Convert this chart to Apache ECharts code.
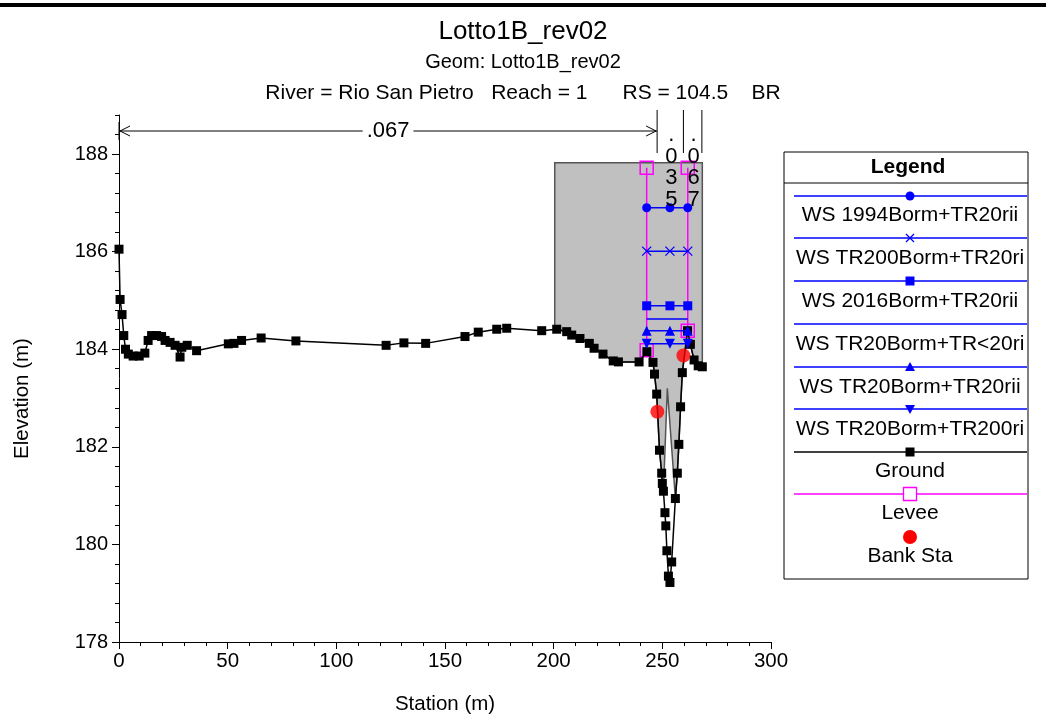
<!DOCTYPE html>
<html>
<head>
<meta charset="utf-8">
<title>Lotto1B_rev02</title>
<script src="https://cdn.jsdelivr.net/npm/echarts@6/dist/echarts.min.js"></script>
<style>
html, body { margin: 0; padding: 0; background: #fff; }
#main { width: 1046px; height: 718px; }
</style>
</head>
<body>
<div id="main"></div>
<script>
// ground profile
var groundSta = [0, 0.5, 1.4, 2.2, 3.0, 4.3, 6.5, 9.3, 11.9, 13.4, 15.0, 17.3, 19.6, 21.2, 23.5, 25.8, 28.1, 28.9, 31.4, 35.7,
    50.3, 52.9, 56.4, 65.4, 81.4, 122.9, 131.1, 141.1, 159.2, 165.3, 173.8, 178.4, 194.5, 201.4, 206.0, 208.3, 212.1, 216.4,
    218.6, 222.7, 227.4, 229.8, 239.3, 242.9, 245.7, 246.4, 247.4, 248.7, 249.7, 250.0, 250.5, 251.2, 251.6, 252.1, 252.8,
    253.5, 254.3, 256.0, 256.9, 257.6, 258.4, 259.2, 261.6, 262.9, 264.6, 266.5, 268.4];
var groundElev = [186.05, 185.02, 184.71, 184.28, 184.00, 183.90, 183.86, 183.86, 183.92, 184.18, 184.28, 184.28, 184.26, 184.18, 184.14, 184.08, 183.84, 184.04, 184.08, 183.97,
    184.11, 184.12, 184.18, 184.23, 184.17, 184.08, 184.13, 184.12, 184.26, 184.35, 184.41, 184.43, 184.38, 184.41, 184.36, 184.29, 184.22, 184.12,
    184.02, 183.90, 183.76, 183.74, 183.74, 183.95, 183.73, 183.49, 183.08, 181.93, 181.46, 181.25, 181.09, 180.65, 180.38, 179.87, 179.35,
    179.22, 179.64, 180.94, 181.46, 182.05, 182.82, 183.52, 184.38, 184.10, 183.78, 183.66, 183.64];

// water surfaces
var wsNames = ['WS 1994Borm+TR20rii', 'WS TR200Borm+TR20ri', 'WS 2016Borm+TR20rii', 'WS TR20Borm+TR<20ri', 'WS TR20Borm+TR20rii', 'WS TR20Borm+TR200ri'];
var wsElev = [186.90, 186.01, 184.89, 184.62, 184.38, 184.11];
var wsSta = [242.8, 253.5, 261.7];

// levees, bank stations
var leveeSta = [242.8, 261.7];
var leveeLow = [183.98, 184.38];
var leveeTop = 187.72;
var bankSta = [247.7, 259.7];
var bankElev = [182.72, 183.87];

// bridge deck and pier opening
var deckSta = [200.5, 268.4];
var deckTop = 187.82;
var pierSta = [250.5, 252.3, 256.0];
var pierElev = [181.09, 183.2, 180.94];

// manning n
var nSta = [0, 247.6, 259.7, 268.2];
var nVal = ['.067', '.035', '.067'];

var xTicks = [0, 50, 100, 150, 200, 250, 300];
var yTicks = [178, 180, 182, 184, 186, 188];

var FONT = '"Liberation Sans", Arial, sans-serif';
var BLUE = '#0000ff';
var crossPath = 'path://M0,0L10,10M10,0L0,10';
var downTri = 'path://M0,0L10,0L5,9Z';

function pairs(xs, ys) {
    var out = [];
    for (var i = 0; i < xs.length; i++) out.push([xs[i], ys[i]]);
    return out;
}

var wsSymbols = ['circle', crossPath, 'rect', 'none', 'triangle', downTri];
var wsSizes = [9, 9, 9, 0, 10, 10];

var series = [];

// grey bridge deck fill
series.push({
    type: 'custom',
    name: 'deck',
    silent: true,
    z: 1,
    data: [0],
    renderItem: function (params, api) {
        var pts = [];
        pts.push(api.coord([deckSta[0], deckTop]));
        pts.push(api.coord([deckSta[1], deckTop]));
        var ib = groundElev.indexOf(Math.min.apply(null, groundElev));
        for (var i = groundSta.length - 1; i > ib; i--) {
            if (groundSta[i] >= pierSta[2]) pts.push(api.coord([groundSta[i], groundElev[i]]));
        }
        for (var k = pierSta.length - 1; k >= 0; k--) pts.push(api.coord([pierSta[k], pierElev[k]]));
        for (var j = ib; j >= 0; j--) {
            if (groundSta[j] <= pierSta[0] && groundSta[j] >= deckSta[0]) pts.push(api.coord([groundSta[j], groundElev[j]]));
        }
        pts.push(api.coord([deckSta[0], 184.41]));
        return {
            type: 'polygon',
            shape: { points: pts },
            style: { fill: '#c0c0c0', stroke: '#555', lineWidth: 1.5 }
        };
    }
});

// levees
for (var l = 0; l < leveeSta.length; l++) {
    series.push({
        type: 'line',
        name: 'Levee',
        z: 3,
        data: [[leveeSta[l], leveeLow[l]], [leveeSta[l], leveeTop]],
        symbol: 'rect',
        symbolSize: 13,
        showAllSymbol: true,
        lineStyle: { color: '#ff00ff', width: 1.5 },
        itemStyle: { color: 'rgba(0,0,0,0)', borderColor: '#ff00ff', borderWidth: 1.5 }
    });
}

// ground
series.push({
    type: 'line',
    name: 'Ground',
    z: 4,
    data: pairs(groundSta, groundElev),
    symbol: 'rect',
    symbolSize: 9,
    showAllSymbol: true,
    lineStyle: { color: '#000', width: 1.5 },
    itemStyle: { color: '#000' }
});

// water surfaces
for (var w = 0; w < wsNames.length; w++) {
    var d = [];
    if (wsSymbols[w] === 'none') {
        d = [[wsSta[0], wsElev[w]], [wsSta[2], wsElev[w]]];
    } else {
        for (var s = 0; s < wsSta.length; s++) d.push([wsSta[s], wsElev[w]]);
    }
    var isCross = wsSymbols[w] === crossPath;
    series.push({
        type: 'line',
        name: wsNames[w],
        z: 5,
        data: d,
        symbol: wsSymbols[w],
        symbolSize: wsSizes[w],
        showAllSymbol: true,
        lineStyle: { color: BLUE, width: 1.5 },
        itemStyle: isCross ? { color: 'rgba(0,0,0,0)', borderColor: BLUE, borderWidth: 1.3 } : { color: BLUE }
    });
}

// bank stations
series.push({
    type: 'scatter',
    name: 'Bank Sta',
    z: 6,
    data: pairs(bankSta, bankElev),
    symbol: 'circle',
    symbolSize: 14,
    itemStyle: { color: '#ff0000' }
});

// legend box built with graphic elements
var legendRows = [
    { name: wsNames[0], lineY: 196, textY: 215, line: BLUE, mark: 'circle' },
    { name: wsNames[1], lineY: 238, textY: 258, line: BLUE, mark: 'cross' },
    { name: wsNames[2], lineY: 281, textY: 301, line: BLUE, mark: 'square' },
    { name: wsNames[3], lineY: 324, textY: 344, line: BLUE, mark: 'none' },
    { name: wsNames[4], lineY: 367, textY: 387, line: BLUE, mark: 'tri' },
    { name: wsNames[5], lineY: 409, textY: 429, line: BLUE, mark: 'dtri' },
    { name: 'Ground', lineY: 452, textY: 471, line: '#000', mark: 'gsquare' },
    { name: 'Levee', lineY: 494, textY: 513, line: '#ff00ff', mark: 'lsquare' },
    { name: 'Bank Sta', lineY: 537, textY: 556, line: null, mark: 'bank' }
];
var mx = 910;
var legendEls = [
    { type: 'rect', shape: { x: 784, y: 152, width: 244, height: 427 }, style: { fill: '#fff', stroke: '#000', lineWidth: 1 } },
    { type: 'line', shape: { x1: 784, y1: 183, x2: 1028, y2: 183 }, style: { stroke: '#000', lineWidth: 1 } },
    { type: 'text', x: 908, y: 167, style: { text: 'Legend', font: 'bold 21px ' + FONT, fill: '#000', align: 'center', verticalAlign: 'middle' } }
];
legendRows.forEach(function (r) {
    var y = r.lineY;
    if (r.line) legendEls.push({ type: 'line', shape: { x1: 794, y1: y, x2: 1027, y2: y }, style: { stroke: r.line, lineWidth: 1.3 } });
    if (r.mark === 'circle') legendEls.push({ type: 'circle', shape: { cx: mx, cy: y, r: 4.5 }, style: { fill: BLUE } });
    if (r.mark === 'cross') legendEls.push({ type: 'polyline', shape: { points: [[mx - 4, y - 4], [mx + 4, y + 4]] }, style: { stroke: BLUE, lineWidth: 1.2 } },
        { type: 'polyline', shape: { points: [[mx + 4, y - 4], [mx - 4, y + 4]] }, style: { stroke: BLUE, lineWidth: 1.2 } });
    if (r.mark === 'square') legendEls.push({ type: 'rect', shape: { x: mx - 4.5, y: y - 4.5, width: 9, height: 9 }, style: { fill: BLUE } });
    if (r.mark === 'tri') legendEls.push({ type: 'polygon', shape: { points: [[mx - 5, y + 4], [mx + 5, y + 4], [mx, y - 5]] }, style: { fill: BLUE } });
    if (r.mark === 'dtri') legendEls.push({ type: 'polygon', shape: { points: [[mx - 5, y - 4], [mx + 5, y - 4], [mx, y + 5]] }, style: { fill: BLUE } });
    if (r.mark === 'gsquare') legendEls.push({ type: 'rect', shape: { x: mx - 4.5, y: y - 4.5, width: 9, height: 9 }, style: { fill: '#000' } });
    if (r.mark === 'lsquare') legendEls.push({ type: 'rect', shape: { x: mx - 6.5, y: y - 6.5, width: 13, height: 13 }, style: { fill: '#fff', stroke: '#ff00ff', lineWidth: 1.3 } });
    if (r.mark === 'bank') legendEls.push({ type: 'circle', shape: { cx: mx, cy: y, r: 7 }, style: { fill: '#ff0000' } });
    legendEls.push({ type: 'text', x: mx, y: r.textY, style: { text: r.name, font: '21px ' + FONT, fill: '#000', align: 'center', verticalAlign: 'middle' } });
});

var chart = echarts.init(document.getElementById('main'), null, { renderer: 'canvas' });

var titleStyle = function (size) {
    return { fontSize: size, fontWeight: 'normal', color: '#000', fontFamily: FONT };
};

var option = {
    backgroundColor: '#fff',
    animation: false,
    textStyle: { fontFamily: FONT, color: '#000' },
    title: [
        { text: 'Lotto1B_rev02', left: 'center', top: 14, textStyle: titleStyle(26) },
        { text: 'Geom: Lotto1B_rev02', left: 'center', top: 47, textStyle: titleStyle(20) },
        { text: 'River = Rio San Pietro   Reach = 1      RS = 104.5    BR', left: 'center', top: 78, textStyle: titleStyle(21) }
    ],
    grid: { left: 119, right: 275, top: 115, bottom: 76, containLabel: false, outerBoundsMode: 'none' },
    xAxis: {
        type: 'value',
        min: xTicks[0],
        max: xTicks[xTicks.length - 1],
        interval: 50,
        name: 'Station (m)',
        nameLocation: 'middle',
        nameGap: 52,
        nameTextStyle: { fontSize: 20.5, color: '#000', fontFamily: FONT },
        axisLine: { lineStyle: { color: '#000', width: 1 } },
        axisTick: { length: 7, lineStyle: { color: '#000' } },
        minorTick: { show: true, splitNumber: 5, length: 4, lineStyle: { color: '#000' } },
        axisLabel: { fontSize: 20.5, color: '#000', margin: 9, fontFamily: FONT },
        splitLine: { show: false }
    },
    yAxis: [{
        type: 'value',
        min: 178,
        max: 188.8,
        interval: 0.4,
        name: 'Elevation (m)',
        nameLocation: 'middle',
        nameGap: 86,
        nameTextStyle: { fontSize: 20.5, color: '#000', fontFamily: FONT, padding: [0, 40, 0, 0] },
        axisLine: { show: true, lineStyle: { color: '#000', width: 1 } },
        axisTick: { length: 4, lineStyle: { color: '#000' } },
        axisLabel: { customValues: yTicks, fontSize: 20, color: '#000', margin: 11, fontFamily: FONT },
        splitLine: { show: false }
    }, {
        type: 'value',
        min: 178,
        max: 188.8,
        position: 'left',
        axisLine: { show: false },
        axisTick: { show: true, customValues: yTicks, length: 7, lineStyle: { color: '#000' } },
        axisLabel: { show: false },
        splitLine: { show: false }
    }],
    graphic: [],
    series: series
};

chart.setOption(option);

// manning n annotations along the top, placed from the x scale
function drawNValues() {
    var els = [{ type: 'rect', shape: { x: 0, y: 3, width: 1046, height: 4 }, style: { fill: '#000' } }];
    var px = nSta.map(function (s) { return chart.convertToPixel({ xAxisIndex: 0, yAxisIndex: 0 }, [s, 188])[0]; });
    var ay = 131;
    for (var i = 0; i < px.length; i++) {
        var top = i === 0 ? 122 : 110;
        var bot = i === 0 ? 140 : 153;
        els.push({ type: 'line', z: 100, shape: { x1: px[i], y1: top, x2: px[i], y2: bot }, style: { stroke: '#000', lineWidth: 1 } });
    }
    for (var k = 0; k < nVal.length; k++) {
        var x0 = px[k], x1 = px[k + 1];
        var mid = (x0 + x1) / 2;
        if (x1 - x0 > 60) {
            els.push({ type: 'line', z: 100, shape: { x1: x0, y1: ay, x2: x1, y2: ay }, style: { stroke: '#000', lineWidth: 1 } });
            els.push({ type: 'polyline', z: 100, shape: { points: [[x0 + 11, ay - 5], [x0 + 1, ay], [x0 + 11, ay + 5]] }, style: { stroke: '#000', lineWidth: 1, fill: null } });
            els.push({ type: 'polyline', z: 100, shape: { points: [[x1 - 11, ay - 5], [x1 - 1, ay], [x1 - 11, ay + 5]] }, style: { stroke: '#000', lineWidth: 1, fill: null } });
            els.push({ type: 'text', x: mid, y: ay, z: 101, style: { text: nVal[k], font: '22px ' + FONT, fill: '#000', align: 'center', verticalAlign: 'middle', backgroundColor: '#fff', padding: [0, 4] } });
        } else {
            var chars = nVal[k].split('');
            for (var c = 0; c < chars.length; c++) {
                els.push({ type: 'text', x: mid + 1, y: 135 + c * 21.5, z: 101, style: { text: chars[c], font: '22px ' + FONT, fill: '#000', align: 'center', verticalAlign: 'middle' } });
            }
        }
    }
    chart.setOption({ graphic: els.concat(legendEls) });
}
drawNValues();

window.onresize = function () {
    chart.resize();
    drawNValues();
};
</script>
</body>
</html>
